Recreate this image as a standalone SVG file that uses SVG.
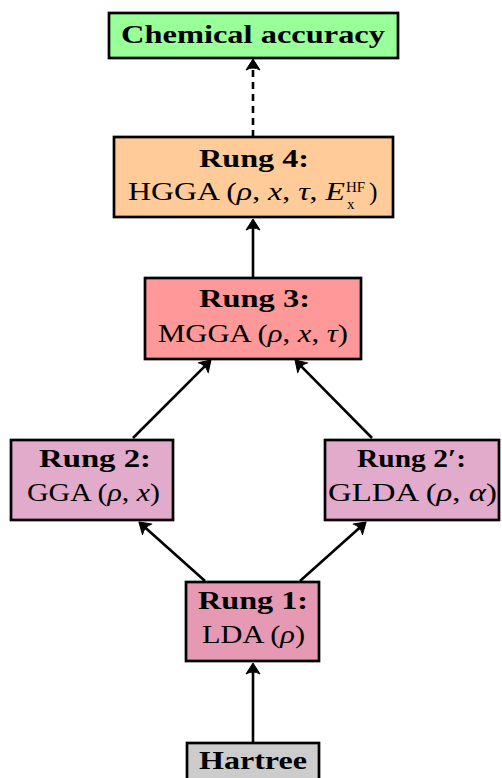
<svg xmlns="http://www.w3.org/2000/svg" width="502" height="778" viewBox="0 0 502 778">
<style>
.box{stroke:#000;stroke-width:2.7}
.b{font-family:"Liberation Serif","Times New Roman",serif;font-weight:bold;font-size:25px;fill:#000}
.r{font-family:"Liberation Serif","Times New Roman",serif;font-size:25.5px;fill:#000}
.i{font-style:italic}
.s{font-family:"Liberation Serif","Times New Roman",serif;font-size:15px;fill:#000}
.c{stroke:#000;stroke-width:2.6;fill:none}
</style>
<defs>
<marker id="ah" markerUnits="userSpaceOnUse" viewBox="-10 -9 14 18" markerWidth="14" markerHeight="18" refX="0" refY="0" orient="auto">
<path d="M 3,0 L -8,-7 Q -4,0 -8,7 Z" fill="#000" stroke="#000" stroke-width="1" stroke-linejoin="round"/>
</marker>
</defs>
<rect width="502" height="778" fill="#fff"/>
<g id="connectors">
<path class="c" d="M253,137 L253,62" stroke-dasharray="7,5" marker-end="url(#ah)"/>
<path class="c" d="M253,278 L253,222" marker-end="url(#ah)"/>
<path class="c" d="M133,438 L208.9,362.1" marker-end="url(#ah)"/>
<path class="c" d="M372,438 L297.1,362.1" marker-end="url(#ah)"/>
<path class="c" d="M205,581 L141.2,524" marker-end="url(#ah)"/>
<path class="c" d="M300,581 L363.8,524" marker-end="url(#ah)"/>
<path class="c" d="M253,743 L253,666" marker-end="url(#ah)"/>
</g>
<g id="chem">
<rect class="box" x="109" y="13" width="289" height="45" fill="#99ff99"/>
<text class="b" x="121" y="43" textLength="264" lengthAdjust="spacingAndGlyphs">Chemical accuracy</text>
</g>
<g id="rung4">
<rect class="box" x="114" y="137" width="279" height="80" fill="#ffcc99"/>
<text class="b" x="199" y="167" textLength="110" lengthAdjust="spacingAndGlyphs">Rung 4:</text>
<text class="r" x="128" y="200" textLength="217" lengthAdjust="spacingAndGlyphs">HGGA (<tspan class="i">ρ</tspan>, <tspan class="i">x</tspan>, <tspan class="i">τ</tspan>, <tspan class="i">E</tspan></text>
<text class="s" x="346" y="192">HF</text>
<text class="s" x="347" y="209">x</text>
<text class="r" x="369" y="200">)</text>
</g>
<g id="rung3">
<rect class="box" x="145" y="278" width="216" height="81" fill="#ff9999"/>
<text class="b" x="199" y="307" textLength="111" lengthAdjust="spacingAndGlyphs">Rung 3:</text>
<text class="r" x="158" y="342" textLength="190" lengthAdjust="spacingAndGlyphs">MGGA (<tspan class="i">ρ</tspan>, <tspan class="i">x</tspan>, <tspan class="i">τ</tspan>)</text>
</g>
<g id="rung2">
<rect class="box" x="11" y="440" width="162" height="80" fill="#e2aacb"/>
<text class="b" x="39" y="467" textLength="112" lengthAdjust="spacingAndGlyphs">Rung 2:</text>
<text class="r" x="27" y="501" textLength="133" lengthAdjust="spacingAndGlyphs">GGA (<tspan class="i">ρ</tspan>, <tspan class="i">x</tspan>)</text>
</g>
<g id="rung2p">
<rect class="box" x="325" y="440" width="174" height="80" fill="#e2aacb"/>
<text class="b" x="357" y="467" textLength="109" lengthAdjust="spacingAndGlyphs">Rung 2′:</text>
<text class="r" x="328" y="501" textLength="169" lengthAdjust="spacingAndGlyphs">GLDA (<tspan class="i">ρ</tspan>, <tspan class="i">α</tspan>)</text>
</g>
<g id="rung1">
<rect class="box" x="186" y="582" width="133" height="79" fill="#e699b3"/>
<text class="b" x="198" y="609" textLength="110" lengthAdjust="spacingAndGlyphs">Rung 1:</text>
<text class="r" x="202" y="643" textLength="103" lengthAdjust="spacingAndGlyphs">LDA (<tspan class="i">ρ</tspan>)</text>
</g>
<g id="hartree">
<rect class="box" x="187" y="743" width="132" height="50" fill="#cccccc"/>
<text class="b" x="199" y="769" textLength="108" lengthAdjust="spacingAndGlyphs">Hartree</text>
</g>
</svg>
